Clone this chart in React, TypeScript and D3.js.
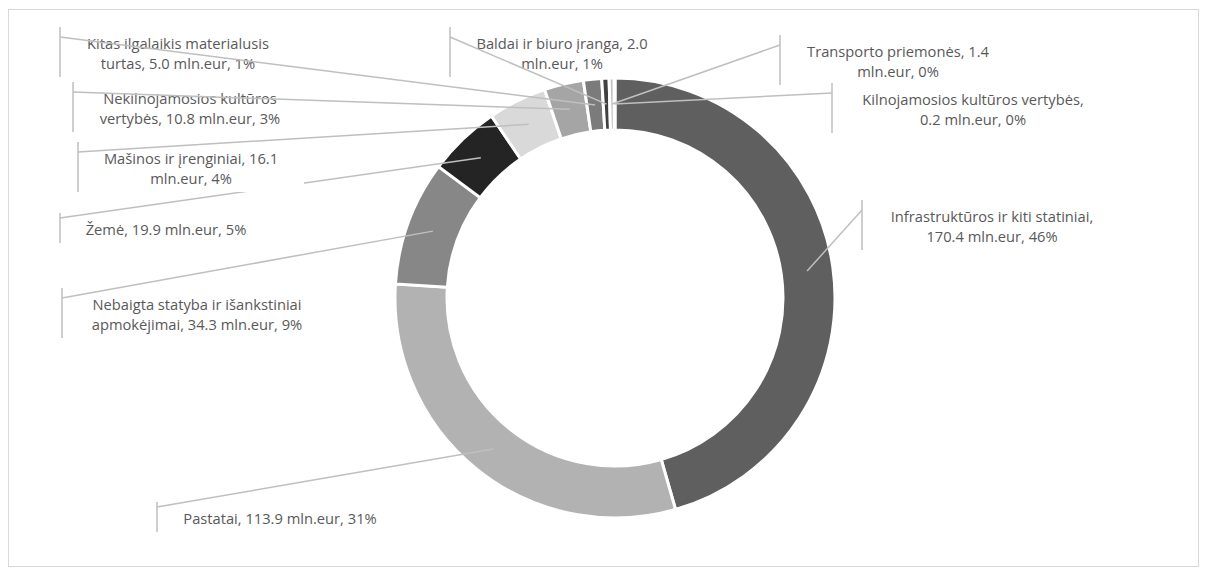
import { useEffect, useRef } from "react";
import * as d3 from "d3";

// turto grupės, pagal laikrodžio rodyklę nuo viršaus
const categories = [
  "Infrastruktūros ir kiti statiniai",
  "Pastatai",
  "Nebaigta statyba ir išankstiniai apmokėjimai",
  "Žemė",
  "Mašinos ir įrenginiai",
  "Nekilnojamosios kultūros vertybės",
  "Kitas ilgalaikis materialusis turtas",
  "Baldai ir biuro įranga",
  "Transporto priemonės",
  "Kilnojamosios kultūros vertybės",
];
const values = [170.4, 113.9, 34.3, 19.9, 16.1, 10.8, 5.0, 2.0, 1.4, 0.2];
const percents = ["46%", "31%", "9%", "5%", "4%", "3%", "1%", "1%", "0%", "0%"];
// etikečių eilutės (taip, kaip suskaidyta paveiksle)
const labelLines = [
  ["Infrastruktūros ir kiti statiniai,", "170.4 mln.eur, 46%"],
  ["Pastatai, 113.9 mln.eur, 31%"],
  ["Nebaigta statyba ir išankstiniai", "apmokėjimai, 34.3 mln.eur, 9%"],
  ["Žemė, 19.9 mln.eur, 5%"],
  ["Mašinos ir įrenginiai, 16.1", "mln.eur, 4%"],
  ["Nekilnojamosios kultūros", "vertybės, 10.8 mln.eur, 3%"],
  ["Kitas ilgalaikis materialusis", "turtas, 5.0 mln.eur, 1%"],
  ["Baldai ir biuro įranga, 2.0", "mln.eur, 1%"],
  ["Transporto priemonės, 1.4", "mln.eur, 0%"],
  ["Kilnojamosios kultūros vertybės,", "0.2 mln.eur, 0%"],
];
const colors = [
  "#5f5f5f", "#b2b2b2", "#878787", "#242424", "#d9d9d9",
  "#a5a5a5", "#7b7b7b", "#404040", "#c4c4c4", "#969696",
];

// etikečių dėžučių vieta: kairysis kraštas, viršus, teksto centras
const labelBox = [
  { x: 862, y: 200, cx: 992 },
  { x: 157, y: 502, cx: 280 },
  { x: 62, y: 288, cx: 197 },
  { x: 60, y: 213, cx: 166 },
  { x: 78, y: 142, cx: 191 },
  { x: 73, y: 82, cx: 190 },
  { x: 60, y: 27, cx: 178 },
  { x: 450, y: 27, cx: 562 },
  { x: 780, y: 35, cx: 898 },
  { x: 832, y: 83, cx: 973 },
];

const App = () => {
  const svgRef = useRef(null);

  useEffect(() => {
    const svg = d3.select(svgRef.current);
    svg.selectAll("*").remove();
    const width = 1208;
    const height = 576;
    const cx = 615;
    const cy = 298;
    const outer = 220;
    const inner = 168;

    svg.attr("width", width).attr("height", height);

    svg
      .append("rect")
      .attr("x", 8.5)
      .attr("y", 9.5)
      .attr("width", 1190)
      .attr("height", 557)
      .attr("fill", "#fff")
      .attr("stroke", "#d9d9d9");

    const data = categories.map((name, i) => ({
      name,
      value: values[i],
      pct: percents[i],
      i,
    }));

    const pie = d3
      .pie<any>()
      .sort(null)
      .value((d) => d.value);
    const arcs = pie(data);

    const arc = d3.arc<any>().innerRadius(inner).outerRadius(outer);
    const midArc = d3
      .arc<any>()
      .innerRadius((inner + outer) / 2)
      .outerRadius((inner + outer) / 2);

    const g = svg.append("g").attr("transform", `translate(${cx}, ${cy})`);

    g.selectAll(".slice")
      .data(arcs)
      .enter()
      .append("path")
      .attr("class", "slice")
      .attr("d", arc as any)
      .attr("fill", (d) => colors[d.data.i])
      .attr("stroke", "#fff")
      .attr("stroke-width", 3)
      .attr("stroke-linejoin", "miter");

    const lineColor = "#bfbfbf";
    const lineH = 20;

    arcs.forEach((a) => {
      const i = a.data.i;
      const lines = labelLines[i];
      const box = labelBox[i];
      const h = lines.length === 1 ? 30 : 50;
      const w = 2 * (box.cx - box.x);
      const lg = svg.append("g").attr("class", "label");

      lg.append("rect")
        .attr("x", box.x)
        .attr("y", box.y)
        .attr("width", w)
        .attr("height", h)
        .attr("fill", "#fff");

      lg.selectAll("text")
        .data(lines)
        .enter()
        .append("text")
        .attr("x", box.cx)
        .attr("y", (_, k) => box.y + 22 + k * lineH)
        .attr("text-anchor", "middle")
        .attr("fill", "#595959")
        .attr("font-family", "'Segoe UI', 'Open Sans', sans-serif")
        .attr("font-size", "14.7px")
        .text((t) => t);

      const [mx, my] = midArc.centroid(a as any);
      const attachY = box.y + (lines.length === 1 ? 5 : 10);

      lg.append("line")
        .attr("x1", box.x)
        .attr("x2", box.x)
        .attr("y1", box.y)
        .attr("y2", box.y + h)
        .attr("stroke", lineColor)
        .attr("stroke-width", 1.5);

      lg.append("line")
        .attr("x1", box.x)
        .attr("y1", attachY)
        .attr("x2", cx + mx)
        .attr("y2", cy + my)
        .attr("stroke", lineColor)
        .attr("stroke-width", 1.5);
    });
  }, []);

  return <svg ref={svgRef} style={{ display: "block", margin: "-8px" }}></svg>;
};

export default App;
